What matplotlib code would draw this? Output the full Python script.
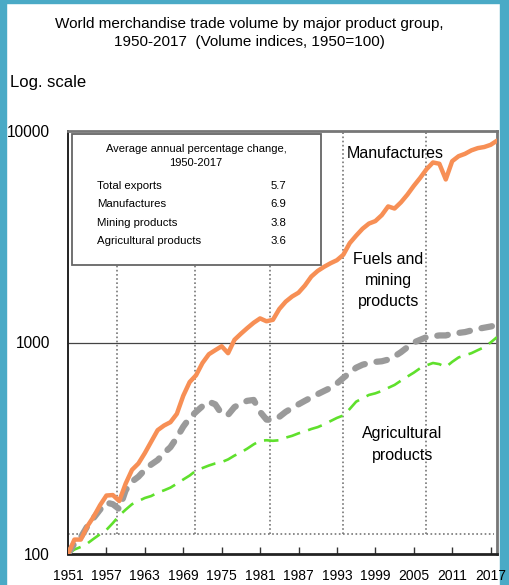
import matplotlib
matplotlib.use("Agg")
import matplotlib.pyplot as plt
from matplotlib.patches import Rectangle
from matplotlib.ticker import NullLocator

# ---- data -------------------------------------------------------------
years = list(range(1950, 2018))

manufactures = [100, 117, 117, 135, 150, 170, 189, 190, 178, 215,
                250, 268, 300, 340, 385, 405, 420, 460, 560, 650,
                700, 800, 880, 920, 960, 890, 1030, 1100, 1170, 1240,
                1300, 1260, 1280, 1440, 1560, 1650, 1720, 1860, 2050, 2180,
                2280, 2370, 2450, 2600, 2950, 3200, 3450, 3650, 3750, 4000,
                4400, 4300, 4600, 5000, 5500, 6000, 6600, 7100, 7000, 5900,
                7200, 7600, 7800, 8100, 8300, 8400, 8600, 9000]

fuels_mining = [100, 112, 120, 135, 148, 162, 175, 172, 163, 200,
                220, 232, 250, 265, 278, 300, 320, 355, 400, 440,
                470, 500, 525, 510, 460, 455, 495, 515, 530, 535,
                470, 432, 430, 445, 470, 490, 510, 530, 550, 570,
                590, 610, 640, 680, 720, 760, 785, 800, 810, 815,
                830, 860, 900, 950, 1000, 1030, 1060, 1070, 1080, 1080,
                1100, 1110, 1120, 1140, 1160, 1175, 1190, 1210]

agricultural = [100, 105, 108, 112, 118, 124, 130, 140, 152, 162,
                172, 178, 184, 188, 195, 200, 206, 215, 225, 235,
                248, 255, 262, 268, 272, 280, 292, 302, 315, 330,
                343, 345, 343, 345, 355, 362, 372, 380, 390, 398,
                410, 425, 440, 452, 485, 525, 545, 565, 575, 590,
                610, 630, 660, 690, 720, 756, 780, 800, 790, 765,
                810, 850, 870, 890, 920, 950, 1000, 1060]

# year labels mark the start of each year; index values are year-end levels
tick_years = list(range(1951, 2018, 6))
y_ticks = [100, 1000, 10000]

period_marks = [1957.7, 1969.8, 1981.5, 1993.0, 2005.9]
base_level = 124

box_title = "Average annual percentage change,\n1950-2017"
box_rows = ["Total exports", "Manufactures", "Mining products", "Agricultural products"]
box_values = ["5.7", "6.9", "3.8", "3.6"]

title = "World merchandise trade volume by major product group,\n1950-2017  (Volume indices, 1950=100)"

# ---- styling ----------------------------------------------------------
FONT = ["Liberation Sans", "DejaVu Sans"]
TEAL = "#4aaac6"
ORANGE = "#f78f55"
GREY = "#9a9a9a"
GREEN = "#5fe02c"

W, H = 509, 585
fig = plt.figure(figsize=(W / 100, H / 100), dpi=100)
fig.patch.set_facecolor("white")

px = lambda x: x / W
py = lambda y: 1 - y / H

# teal frame strips
fig.add_artist(Rectangle((0, 0), px(6), 1, transform=fig.transFigure, color=TEAL, zorder=0))
fig.add_artist(Rectangle((px(500), 0), px(9), 1, transform=fig.transFigure, color=TEAL, zorder=0))
fig.add_artist(Rectangle((0, py(3)), 1, 3 / H, transform=fig.transFigure, color=TEAL, zorder=0))

left, right, top, bottom = 68, 497, 131, 554
ax = fig.add_axes([px(left), py(bottom), px(right - left), (bottom - top) / H])

ax.set_yscale("log")
ax.set_ylim(100, 10000)
ax.set_xlim(years[0], years[-1])

# reference lines
ax.axhline(1000, color="#444444", lw=0.9, zorder=1)
dot = dict(ls=(0, (1, 1.5)), color="#777777", lw=1.2, zorder=1)
ax.plot([years[0], 2016.5], [base_level, base_level], **dot)
box_bottom = 10 ** (2 + (553 - 265) / 211)
for yr in period_marks:
    y_top = 10000 if yr > 1990 else box_bottom
    ax.plot([yr, yr], [base_level, y_top], **dot)

# series
ax.plot(years, agricultural, color=GREEN, lw=1.9, ls=(0, (5.5, 3.2)), zorder=3)
ax.plot(years, fuels_mining, color=GREY, lw=4.5, ls=(0, (1.7, 1.9)),
        dash_capstyle="round", zorder=3)
ax.plot(years, manufactures, color=ORANGE, lw=3.2, solid_capstyle="round", zorder=4)

# axes appearance
ax.spines["left"].set_color("#222222")
ax.spines["left"].set_linewidth(1.4)
ax.spines["bottom"].set_color("#222222")
ax.spines["bottom"].set_linewidth(2.0)
for s in ("top", "right"):
    ax.spines[s].set_color("#777777")
    ax.spines[s].set_linewidth(2.0)

ax.set_xticks([y - 1 for y in tick_years])
ax.set_xticklabels([str(y) for y in tick_years], family=FONT, fontsize=10)
ax.tick_params(axis="x", direction="in", length=5, width=1, color="#333333", pad=10.5)
ax.set_yticks(y_ticks)
ax.set_yticklabels([str(v) for v in y_ticks], family=FONT, fontsize=11.2)
ax.yaxis.set_minor_locator(NullLocator())
ax.tick_params(axis="y", length=0, pad=13)

# inset summary box
fig.add_artist(Rectangle((px(72), py(265)), px(321) - px(72), py(134) - py(265),
                         transform=fig.transFigure, facecolor="white",
                         edgecolor="#666666", lw=1.3, zorder=5))
fig.text(px(196), py(156), box_title, ha="center", va="center", family=FONT,
         fontsize=8, linespacing=1.45, zorder=6)
for i, (lab, val) in enumerate(zip(box_rows, box_values)):
    yy = py(186 + i * 18.3)
    fig.text(px(97), yy, lab, ha="left", va="center", family=FONT, fontsize=8.2, zorder=6)
    fig.text(px(278), yy, val, ha="center", va="center", family=FONT, fontsize=8.2, zorder=6)

# series labels
yval = lambda ypix: 10 ** (2 + (553 - ypix) / 211)
ax.text(2001.1, yval(153), "Manufactures", ha="center", va="center",
        family=FONT, fontsize=11.5, zorder=6)
ax.text(2000.0, yval(280), "Fuels and\nmining\nproducts", ha="center",
        va="center", family=FONT, fontsize=11.5, linespacing=1.5, zorder=6)
ax.text(2002.2, yval(444), "Agricultural\nproducts", ha="center",
        va="center", family=FONT, fontsize=11.5, linespacing=1.6, zorder=6)

# headings
fig.text(px(249), py(33), title, ha="center", va="center", fontsize=11,
         family=FONT, linespacing=1.3)
fig.text(px(10), py(83), "Log. scale", ha="left", va="center", family=FONT, fontsize=12)

fig.savefig("out.png", dpi=100)
